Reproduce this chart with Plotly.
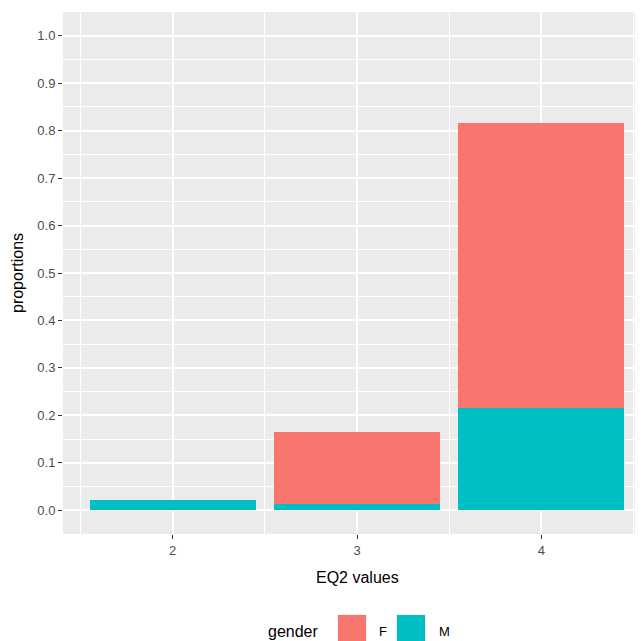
import plotly.graph_objects as go

eq2_values = [2, 3, 4]
prop_M = [0.0227, 0.0141, 0.2157]
prop_F = [0.0, 0.151, 0.600]
y_ticks = [0.0, 0.1, 0.2, 0.3, 0.4, 0.5, 0.6, 0.7, 0.8, 0.9, 1.0]
y_tick_labels = [f"{v:.1f}" for v in y_ticks]
legend_title = "gender"
series = [("M", prop_M, "#00BFC4"), ("F", prop_F, "#F8766D")]

FONT = "Liberation Sans, Arial, sans-serif"

fig = go.Figure()
for name, vals, col in series:
    fig.add_trace(go.Bar(x=eq2_values, y=vals, name=name, width=0.9, showlegend=False,
                         marker=dict(color=col, line=dict(width=0))))

# page body has an 8px margin; positions below are given in screenshot pixels
OFF = 8
W, H, L, T, B = 643, 641, 55, 4, 115
pw, ph = W - L, H - T - B
def px(x): return (x - OFF - L) / pw
def py(y): return (H - B - (y - OFF)) / ph

shapes = []
annotations = []
annotations.append(dict(text=legend_title, x=px(266), y=py(631), xref="paper", yref="paper",
                        xanchor="left", yanchor="middle", showarrow=False,
                        font=dict(size=16, color="black", family=FONT)))
key_pos = {"F": (338, 377), "M": (397, 437)}
for name, vals, col in series:
    kx, tx = key_pos[name]
    shapes.append(dict(type="rect", xref="paper", yref="paper",
                       x0=px(kx - 1), x1=px(kx + 29), y0=py(614), y1=py(645),
                       fillcolor="#F2F2F2", line=dict(width=0), layer="above"))
    shapes.append(dict(type="rect", xref="paper", yref="paper",
                       x0=px(kx), x1=px(kx + 28), y0=py(615), y1=py(643),
                       fillcolor=col, line=dict(width=0), layer="above"))
    annotations.append(dict(text=name, x=px(tx), y=py(631), xref="paper", yref="paper",
                            xanchor="left", yanchor="middle", showarrow=False,
                            font=dict(size=13, color="black", family=FONT)))
annotations.append(dict(text="EQ2 values", x=px(357), y=py(577), xref="paper", yref="paper",
                        xanchor="center", yanchor="middle", showarrow=False,
                        font=dict(size=16, color="black", family=FONT)))
annotations.append(dict(text="proportions", x=px(17), y=py(273), xref="paper", yref="paper",
                        xanchor="center", yanchor="middle", showarrow=False, textangle=-90,
                        font=dict(size=16, color="black", family=FONT)))

fig.update_layout(
    width=W, height=H,
    barmode="stack",
    paper_bgcolor="white",
    plot_bgcolor="#EBEBEB",
    margin=dict(l=L, r=0, t=T, b=B, autoexpand=False),
    font=dict(family=FONT, color="#4D4D4D", size=13),
    showlegend=False,
    shapes=shapes,
    annotations=annotations,
    xaxis=dict(
        range=[1.405, 4.595], tickvals=eq2_values, ticktext=[str(v) for v in eq2_values],
        showgrid=True, gridcolor="white", gridwidth=2, automargin=False,
        minor=dict(dtick=0.5, tick0=0, showgrid=True, gridcolor="white", gridwidth=1, ticks=""),
        ticks="outside", ticklen=4, tickcolor="#333333", tickwidth=1,
        zeroline=False, showline=False,
        tickfont=dict(size=13, color="#4D4D4D"),
    ),
    yaxis=dict(
        range=[-0.05, 1.05], tickvals=y_ticks, ticktext=y_tick_labels,
        showgrid=True, gridcolor="white", gridwidth=2, automargin=False,
        minor=dict(dtick=0.05, tick0=0, showgrid=True, gridcolor="white", gridwidth=1, ticks=""),
        ticks="outside", ticklen=4, tickcolor="#333333", tickwidth=1,
        zeroline=False, showline=False,
        tickfont=dict(size=13, color="#4D4D4D"),
    ),
)

fig.write_html("out.html")
